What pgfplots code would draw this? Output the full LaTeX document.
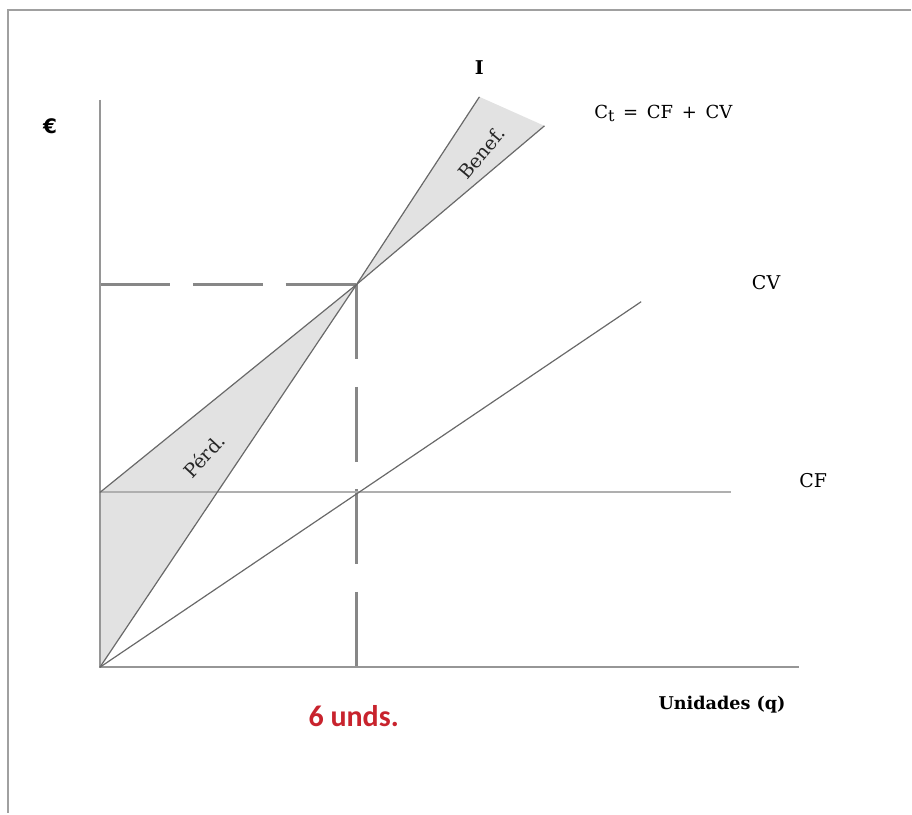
\documentclass[border=0pt]{standalone}
\usepackage{fontspec}
\setmainfont{DejaVu Serif}
\newfontfamily\carlito{Carlito}
\newfontfamily\dvsans{DejaVu Sans}
\usepackage{pgfplots}
\pgfplotsset{compat=1.18}
\definecolor{ln}{RGB}{105,105,105}
\definecolor{axc}{RGB}{150,150,150}
\definecolor{cfc}{RGB}{175,175,175}
\definecolor{dashc}{RGB}{135,135,135}
\definecolor{framec}{RGB}{160,160,160}
\definecolor{shade}{RGB}{226,226,226}
\definecolor{redt}{RGB}{200,35,45}
\begin{document}
\begin{tikzpicture}
\begin{axis}[scale only axis, width=456pt, height=407pt,
  xmin=-2.335, xmax=18.957, ymin=-83.43, ymax=381.7,
  hide axis, clip=false]
\path (rel axis cs:0,0) rectangle (rel axis cs:1,1);
% frame
\draw[framec, line width=1pt] (axis cs:-2.148,-83.43) -- (axis cs:-2.148,376) -- (axis cs:18.957,376);
% shaded areas
\addplot[fill=shade, draw=none] coordinates {(0,0) (0,100) (6,219)};
\addplot[fill=shade, draw=none] coordinates {(6,219) (8.87,326.3) (10.39,309.7)};
% dashed guide lines
\addplot[dashc, line width=1.2pt, dash pattern=on 35pt off 11.5pt] coordinates {(0,219) (6,219)};
\addplot[dashc, line width=1.2pt, dash pattern=on 37.5pt off 13.8pt] coordinates {(6,219) (6,0)};
% axes
\addplot[axc, line width=1pt] coordinates {(0,324.6) (0,0) (16.34,0)};
% CF
\addplot[cfc, line width=1pt] coordinates {(0,100) (14.76,100)};
% CV
\addplot[ln, line width=0.6pt] coordinates {(0,0) (12.65,209.1)};
% Ct
\addplot[ln, line width=0.6pt] coordinates {(0,100) (6,219) (10.39,309.7)};
% I
\addplot[ln, line width=0.6pt] coordinates {(0,0) (6,219) (8.87,326.3)};
% labels
\node[font=\fontsize{9.5}{11}\selectfont\bfseries] at (axis cs:8.87,342.9) {I};
\node[anchor=west, font=\fontsize{9}{11}\selectfont] at (axis cs:11.39,317) {C\raisebox{-0.35ex}{\fontsize{8}{9}\selectfont t}\, =\, CF\, +\, CV};
\node[font=\fontsize{9.5}{11}\selectfont] at (axis cs:15.57,220) {CV};
\node[font=\fontsize{9.5}{11}\selectfont] at (axis cs:16.67,106.9) {CF};
\node[font=\dvsans\fontsize{10}{12}\selectfont\bfseries] at (axis cs:-1.167,309.7) {€};
\node[font=\fontsize{8.8}{11}\selectfont\bfseries] at (axis cs:14.54,-21.1) {Unidades (q)};
\node[font=\carlito\fontsize{15}{17}\selectfont\bfseries, text=redt] at (axis cs:5.93,-28) {6 unds.};
\node[rotate=50, inner sep=0pt, font=\fontsize{9.5}{10}\selectfont, text=black!85] at (axis cs:8.92,294.3) {Benef.};
\node[rotate=47, inner sep=0pt, font=\fontsize{9.5}{10}\selectfont, text=black!85] at (axis cs:2.43,121.1) {Pérd.};
\end{axis}
\end{tikzpicture}
\end{document}
